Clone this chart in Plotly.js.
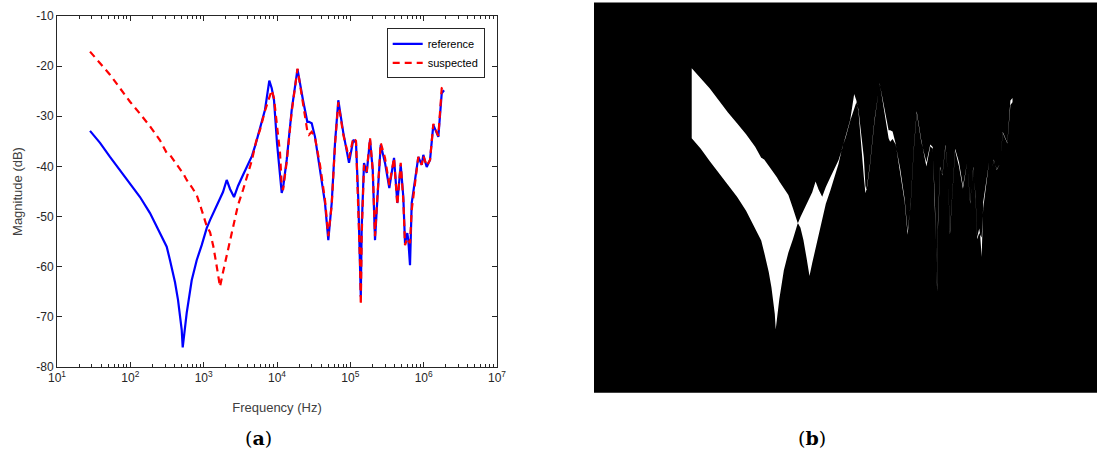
<!DOCTYPE html>
<html>
<head>
<meta charset="utf-8">
<script src="https://cdn.plot.ly/plotly-3.0.1.min.js"></script>
<style>html,body{margin:0;padding:0;background:#fff;}#chart{width:1100px;height:452px;}</style>
</head>
<body>
<div id="chart"></div>
<script>
// Frequencies (Hz) shared by both series
const freq = [28.2, 38.6, 52.8, 72.3, 99.0, 135.5, 185.4, 253.9, 313.3, 347.5,
  406.6, 446.8, 475.7, 501.8, 517.9, 539.4, 587.2, 686.9, 803.6, 940.3,
  1100, 1221, 1353, 1506, 1670, 1835, 2062, 2287, 2593, 2940,
  3440, 4024, 4562, 5173, 5866, 6862, 7855, 8475, 9105, 10000,
  10990, 11595, 12080, 13565, 15870, 19040, 22630, 25900, 27320, 29740,
  32990, 38590, 45150, 50080, 55730, 61820, 68580, 80220, 95940, 109800,
  119500, 128500, 135500, 138900, 142900, 153700, 167200, 185500, 202000, 217000,
  233300, 259600, 297100, 340100, 394300, 437100, 486400, 527800, 556800, 598500,
  617600, 651300, 687100, 762200, 845500, 940800, 989200, 1100000, 1221000, 1354000,
  1585000, 1763000, 1895000];

// Magnitude (dB) of the reference response
const reference = [-32.9, -35.3, -38.1, -40.7, -43.3, -46.1, -49.3, -53.3, -56.0, -58.7,
  -63.1, -66.6, -69.6, -72.6, -76.1, -73.6, -69.2, -62.7, -58.7, -55.7,
  -52.3, -50.7, -49.3, -47.9, -46.7, -45.1, -42.7, -44.5, -46.1, -43.9,
  -41.7, -39.7, -37.9, -35.3, -32.1, -28.7, -22.9, -24.4, -26.8, -35.3,
  -41.7, -45.3, -44.3, -38.7, -28.7, -20.6, -26.8, -31.1, -31.1, -31.4,
  -34.1, -40.7, -47.3, -54.7, -47.3, -35.3, -26.8, -33.3, -39.3, -34.7,
  -35.3, -46.7, -58.7, -66.0, -52.1, -39.3, -41.3, -34.7, -40.7, -54.7,
  -46.7, -35.7, -39.3, -44.3, -38.3, -47.3, -39.7, -46.1, -55.3, -53.3,
  -54.7, -59.7, -47.3, -42.7, -38.1, -39.7, -37.7, -40.1, -38.7, -31.7,
  -34.1, -25.4, -24.8];

// Magnitude (dB) of the suspected response
const suspected = [-17.1, -19.4, -21.7, -24.4, -27.1, -29.5, -32.0, -34.8, -37.3, -37.7,
  -39.1, -39.9, -40.3, -40.9, -41.3, -41.7, -42.7, -44.1, -45.7, -48.7,
  -51.9, -53.1, -55.9, -59.9, -64.0, -61.1, -57.9, -54.7, -51.1, -47.7,
  -44.7, -41.1, -38.7, -35.1, -32.7, -28.9, -26.2, -24.8, -26.4, -31.7,
  -37.3, -43.7, -44.7, -39.1, -29.1, -20.5, -27.2, -32.9, -33.7, -33.1,
  -34.3, -39.7, -46.7, -53.9, -47.7, -35.7, -27.2, -33.7, -38.3, -34.3,
  -34.9, -46.7, -59.1, -67.6, -53.7, -39.7, -41.1, -34.3, -40.7, -53.9,
  -46.7, -35.3, -38.3, -43.7, -38.3, -47.7, -39.3, -46.7, -55.7, -54.3,
  -54.7, -55.3, -48.7, -43.1, -38.1, -39.7, -37.9, -39.9, -38.7, -31.5,
  -33.9, -24.4, -23.8];

const decadeVals = [1e1, 1e2, 1e3, 1e4, 1e5, 1e6, 1e7];
const decadeText = ['10<sup>1</sup>', '10<sup>2</sup>', '10<sup>3</sup>', '10<sup>4</sup>',
  '10<sup>5</sup>', '10<sup>6</sup>', '10<sup>7</sup>'];
const magVals = [-80, -70, -60, -50, -40, -30, -20, -10];
const magText = ['-80', '-70', '-60', '-50', '-40', '-30', '-20', '-10'];
const minorVals = [];
for (let d = 1; d < 7; d++) for (let k = 2; k <= 9; k++) minorVals.push(k * Math.pow(10, d));

const W = 1100, H = 452;
const px = v => v / W, py = v => 1 - v / H;

const axisCol = '#262626';
const traces = [
  {x: freq, y: reference, type: 'scatter', mode: 'lines', name: 'reference',
   line: {color: '#0000ff', width: 2.2}, xaxis: 'x', yaxis: 'y'},
  {x: freq, y: suspected, type: 'scatter', mode: 'lines', name: 'suspected',
   line: {color: '#ff0000', width: 2.2, dash: '7px,5px'}, xaxis: 'x', yaxis: 'y'},
  {x: freq, y: suspected, type: 'scatter', mode: 'lines', showlegend: false, hoverinfo: 'skip',
   line: {color: 'rgba(255,255,255,0)', width: 0}, xaxis: 'x2', yaxis: 'y2'},
  {x: freq, y: reference, type: 'scatter', mode: 'lines', showlegend: false, hoverinfo: 'skip',
   fill: 'tonexty', fillcolor: '#ffffff',
   line: {color: 'rgba(255,255,255,0)', width: 0}, xaxis: 'x2', yaxis: 'y2'}
];

const layout = {
  width: W, height: H,
  margin: {l: 0, r: 0, t: 0, b: 0},
  paper_bgcolor: '#ffffff',
  plot_bgcolor: 'rgba(0,0,0,0)',
  font: {family: 'Liberation Sans, Arial, sans-serif', size: 12, color: axisCol},
  showlegend: true,
  legend: {x: px(386.7), y: py(28.3), xanchor: 'left', yanchor: 'top', traceorder: 'normal',
    bgcolor: '#ffffff', bordercolor: axisCol, borderwidth: 1, itemwidth: 30,
    font: {size: 11, color: '#000000'}, tracegroupgap: 0},
  xaxis: {type: 'log', range: [1, 7], domain: [px(57), px(497)], anchor: 'y',
    tickvals: decadeVals, ticktext: decadeText, ticks: 'inside', ticklen: 5, tickcolor: axisCol,
    showline: true, linecolor: axisCol, linewidth: 1, mirror: 'ticks',
    showgrid: false, zeroline: false,
    minor: {tickvals: minorVals, ticks: 'inside', ticklen: 3, tickcolor: axisCol, showgrid: false},
    tickfont: {size: 12, color: axisCol},
    title: {text: 'Frequency (Hz)', font: {size: 13, color: '#404040'}, standoff: 18}},
  yaxis: {range: [-80, -10], domain: [py(367), py(16)], anchor: 'x',
    tickvals: magVals, ticktext: magText, ticks: 'inside', ticklen: 5, tickcolor: axisCol,
    showline: true, linecolor: axisCol, linewidth: 1, mirror: 'ticks',
    showgrid: false, zeroline: false,
    tickfont: {size: 12, color: axisCol},
    title: {text: 'Magnitude (dB)', font: {size: 13, color: '#404040'}, standoff: 10}},
  xaxis2: {type: 'log', range: [1, 7], domain: [px(661.8), px(1060.5)], anchor: 'y2', visible: false},
  yaxis2: {range: [-80, -10], domain: [py(346.8), py(36.8)], anchor: 'x2', visible: false},
  shapes: [
    {type: 'rect', xref: 'paper', yref: 'paper', x0: px(594), x1: px(1097), y0: py(392.7), y1: py(2.5),
     fillcolor: '#000000', line: {width: 0}, layer: 'below'}
  ],
  annotations: [
    {text: '(<b>a</b>)', xref: 'paper', yref: 'paper', x: px(258), y: py(438),
     xanchor: 'center', yanchor: 'middle', showarrow: false,
     font: {family: 'DejaVu Serif, Liberation Serif, serif', size: 19, color: '#000000'}},
    {text: '(<b>b</b>)', xref: 'paper', yref: 'paper', x: px(812), y: py(438),
     xanchor: 'center', yanchor: 'middle', showarrow: false,
     font: {family: 'DejaVu Serif, Liberation Serif, serif', size: 19, color: '#000000'}}
  ]
};

Plotly.newPlot('chart', traces, layout, {displayModeBar: false, staticPlot: true});
</script>
</body>
</html>
